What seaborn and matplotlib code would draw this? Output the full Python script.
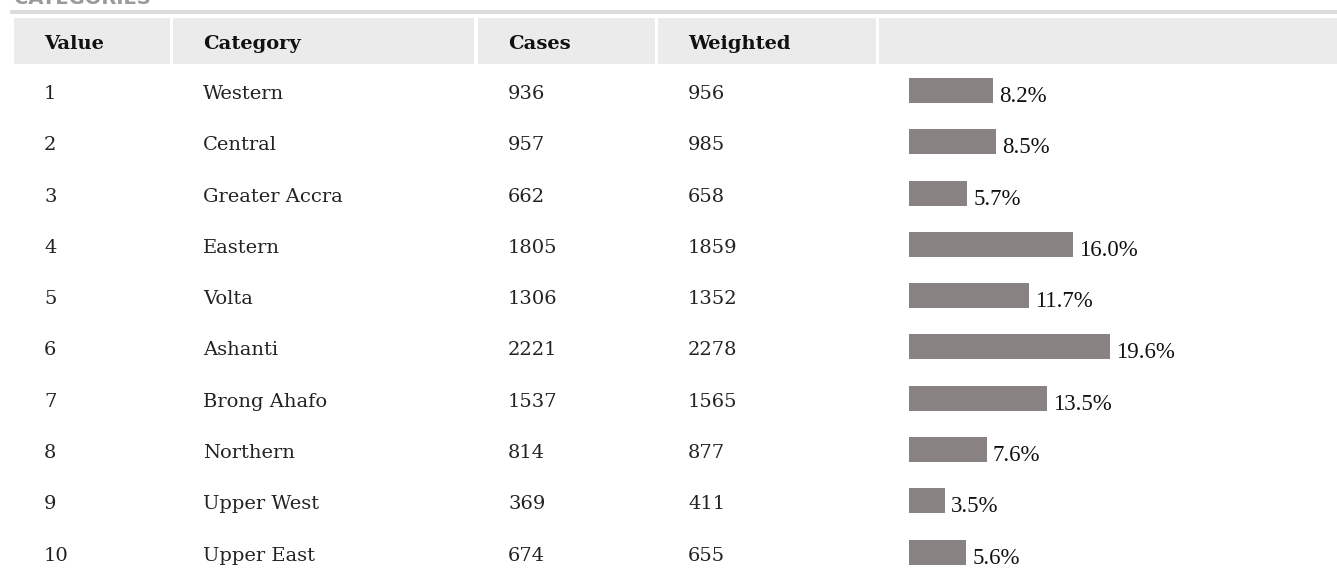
import matplotlib
matplotlib.use("Agg")
import matplotlib.pyplot as plt
from matplotlib.patches import Rectangle
import pandas as pd
import seaborn as sns

# table data
values = [1, 2, 3, 4, 5, 6, 7, 8, 9, 10]
categories = ["Western", "Central", "Greater Accra", "Eastern", "Volta",
              "Ashanti", "Brong Ahafo", "Northern", "Upper West", "Upper East"]
cases = [936, 957, 662, 1805, 1306, 2221, 1537, 814, 369, 674]
weighted = [956, 985, 658, 1859, 1352, 2278, 1565, 877, 411, 655]
percent = [8.2, 8.5, 5.7, 16.0, 11.7, 19.6, 13.5, 7.6, 3.5, 5.6]
headers = ["Value", "Category", "Cases", "Weighted", ""]

df = pd.DataFrame({"value": values, "category": categories, "cases": cases,
                   "weighted": weighted, "percent": percent})

W, H = 1337, 574
ROW0 = 90.5      # center of first row (px)
ROWH = 51.28     # row pitch (px)
BAR_PX = 25      # bar thickness (px)
PX_PER_PCT = 10.25
BAR_LEFT = 909

fig = plt.figure(figsize=(W / 100, H / 100), dpi=100)

# page layer, pixel coordinates
ax = fig.add_axes([0, 0, 1, 1])
ax.set_xlim(0, W)
ax.set_ylim(H, 0)
ax.axis("off")

ax.text(14, 3.5, "CATEGORIES", fontsize=14, fontweight="bold", color="#9a9a9a",
        family="DejaVu Sans", va="baseline", ha="left")
ax.add_patch(Rectangle((10, 10), W - 10, 3.5, color="#dcdcdc", lw=0))

cells = [(14, 170), (173, 474), (478, 655), (658, 876), (879, W)]
for (x0, x1), h in zip(cells, headers):
    ax.add_patch(Rectangle((x0, 18.3), x1 - x0, 46, color="#ebebeb", lw=0))
    ax.text(x0 + 30, 49, h, fontsize=14, fontweight="bold", family="DejaVu Serif",
            color="#111111", va="baseline", ha="left")

cols = ["value", "category", "cases", "weighted"]
for i, row in df.iterrows():
    y = ROW0 + ROWH * i + 8.5
    for (x0, _), c in zip(cells, cols):
        ax.text(x0 + 30, y, str(row[c]), fontsize=14, family="DejaVu Serif",
                color="#222222", va="baseline", ha="left")

# bar column
top_px = ROW0 - ROWH / 2
bax = fig.add_axes([BAR_LEFT / W, 0, (W - BAR_LEFT) / W, (H - top_px) / H])
bax.patch.set_alpha(0)
sns.barplot(data=df, x="percent", y="category", orient="h", color="#888382",
            saturation=1, width=BAR_PX / ROWH, ax=bax)
bax.set_xlim(0, (W - BAR_LEFT) / PX_PER_PCT)
bax.set_ylim(-0.5 + (H - top_px) / ROWH, -0.5)
bax.axis("off")

half = BAR_PX / ROWH / 2
for i, p in enumerate(percent):
    bax.text(p + 6 / PX_PER_PCT, i + half - 1 / ROWH, f"{p:.1f}%", fontsize=16.5,
             family="Liberation Serif", color="#111111", va="baseline", ha="left")

fig.savefig("out.png", dpi=100)
